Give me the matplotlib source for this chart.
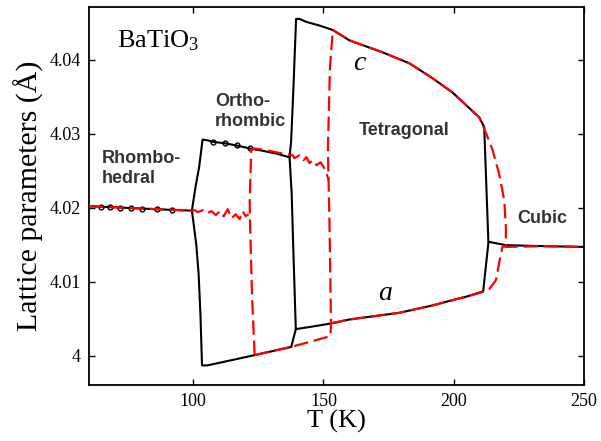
import matplotlib
matplotlib.use("Agg")
import matplotlib.pyplot as plt

plt.rcParams['font.family'] = ['Liberation Serif', 'DejaVu Serif']
plt.rcParams['mathtext.fontset'] = 'custom'
plt.rcParams['mathtext.rm'] = 'Liberation Serif'
plt.rcParams['mathtext.it'] = 'Liberation Serif:italic'

# ---------------- data (T in K, lattice parameter in Angstrom) -------------
# Black solid (cooling) curves
blk_main_T = [60, 64.5, 68, 72, 76, 80.5, 86, 92, 99.5, 100.9, 102.3, 103.6, 105.5,
              107.5, 112.1, 116.7, 121.7, 126.5, 132, 137.0, 137.6, 138.45, 139.5,
              140.8, 143.4, 148.5, 153.6, 160.0, 172.6, 183.0, 191.8, 199.4, 209.8,
              211.7, 213.3, 220.0, 235, 250]
blk_main_y = [4.0202, 4.02013, 4.02008, 4.02002, 4.01995, 4.01988, 4.01979, 4.0197,
              4.0196, 4.0228, 4.0255, 4.0292, 4.0291, 4.0289, 4.0287, 4.0284, 4.0280,
              4.0277, 4.0273, 4.0268, 4.0290, 4.0359, 4.0455, 4.0455, 4.0451, 4.0446,
              4.0440, 4.0426, 4.0410, 4.0395, 4.0375, 4.0356, 4.0322, 4.0309, 4.0154,
              4.01494, 4.0148, 4.0147]
blk_marker_idx = [1, 2, 3, 4, 5, 6, 7, 13, 14, 15, 16]

blk_low_T = [99.5, 100.0, 101.2, 102.1, 102.8, 103.4, 105.5, 122.5, 137.65, 139.4, 145,
             153.6, 160, 172.7, 179.1, 191.9, 198.3, 205, 211.3, 213.3]
blk_low_y = [4.0196, 4.0183, 4.0150, 4.0110, 4.0055, 3.9987, 3.9987, 4.0000, 4.0012,
             4.0036, 4.0039, 4.0044, 4.0049, 4.0055, 4.0058, 4.0068, 4.0074, 4.0080,
             4.0087, 4.0152]

blk_split_T = [137.0, 137.8, 138.3, 139.0, 139.4]
blk_split_y = [4.0268, 4.0220, 4.0160, 4.0080, 4.0036]

# Red dashed (heating) curves
red_rh_T = [60, 70, 80, 90, 99.5, 100.6, 101.75, 103.67, 105.2, 107.1, 108.65, 110.2,
            111.7, 113.25, 114.8, 116.3, 117.85, 119.0, 120.1, 121.3]
red_rh_y = [4.0202, 4.02005, 4.0199, 4.01975, 4.0196, 4.01966, 4.01939, 4.01966,
            4.01926, 4.01953, 4.01899, 4.01953, 4.01885, 4.01980, 4.01858, 4.01912,
            4.01845, 4.01953, 4.01885, 4.01912]

red_up_T = [123.6, 122.6, 121.8, 121.7, 122.3, 123.6, 129, 134.4, 138.1, 138.9, 140.8,
            142.35, 143.5, 144.65, 145.8, 147.35, 148.9, 150.8, 152.0]
red_up_y = [4.0001, 4.0080, 4.0183, 4.0210, 4.0278, 4.0280, 4.0277, 4.0273, 4.0271,
            4.02668, 4.02709, 4.02641, 4.02682, 4.02601, 4.02641, 4.02574, 4.02614,
            4.02506, 4.02371]

red_c_T = [123.6, 130, 137.65, 145, 151.7, 152.7, 152.9, 152.3, 151.7, 152.5, 153.6,
           160.0, 172.6, 183.0, 191.8, 199.4, 209.8, 211.7, 214.9, 217.4, 219.4,
           220.0, 220.0, 235, 250]
red_c_y = [4.0001, 4.0006, 4.0012, 4.0019, 4.00256, 4.0027, 4.0044, 4.0183, 4.0278,
           4.0390, 4.0440, 4.0426, 4.0410, 4.0395, 4.0375, 4.0356, 4.0322, 4.0307,
           4.0278, 4.0246, 4.0210, 4.0174, 4.0147, 4.0148, 4.0147]

red_a_T = [152.9, 160, 172.7, 179.1, 191.9, 198.3, 205, 211.05, 213.6, 216.2, 217.4,
           218.7, 220.0]
red_a_y = [4.0044, 4.0049, 4.0055, 4.0058, 4.0068, 4.0074, 4.0080, 4.0086, 4.0090,
           4.0102, 4.0125, 4.0147, 4.0148]

xticks = [100, 150, 200, 250]
xtick_labels = ['100', '150', '200', '250']
yticks = [4.00, 4.01, 4.02, 4.03, 4.04]
ytick_labels = ['4', '4.01', '4.02', '4.03', '4.04']

phase_labels = ['Rhombo-\nhedral', 'Ortho-\nrhombic', 'Tetragonal', 'Cubic']
phase_pos = [(64.9, 4.02526), (108.3, 4.0330), (181.05, 4.03046), (234.0, 4.01854)]
phase_ha = ['left', 'left', 'center', 'center']

# ---------------- figure -------------------------------------------------------
fig = plt.figure(figsize=(6.01, 4.41), dpi=100)
ax = fig.add_axes([0.148, 0.127, 0.8237, 0.857])

lw = 1.5
ax.plot(blk_main_T, blk_main_y, color='black', lw=lw, marker='o', ms=3.5,
        mfc='none', mec='black', mew=1.0, markevery=blk_marker_idx, zorder=2)
ax.plot(blk_low_T, blk_low_y, color='black', lw=lw, zorder=2)
ax.plot(blk_split_T, blk_split_y, color='black', lw=lw, zorder=2)

dash = (0, (6.5, 2.6))
for T, y in [(red_rh_T, red_rh_y), (red_up_T, red_up_y), (red_c_T, red_c_y),
             (red_a_T, red_a_y)]:
    ax.plot(T, y, color='#ff0000', lw=1.6, linestyle=dash, zorder=3)

ax.set_xlim(60, 250)
ax.set_ylim(3.99605, 4.0471)
ax.set_xticks(xticks)
ax.set_xticklabels(xtick_labels)
ax.set_yticks(yticks)
ax.set_yticklabels(ytick_labels)
ax.tick_params(direction='in', length=4.5, width=1.0, top=True, right=True,
               labelsize=13, pad=6)
for s in ax.spines.values():
    s.set_linewidth(1.3)

ax.set_xlabel('T (K)', fontsize=19, labelpad=0)
ax.set_ylabel('Lattice parameters (Å)', fontsize=21.5, labelpad=4)

ax.text(70.6, 4.04166, 'BaTiO$_\\mathrm{3}$', fontsize=19, ha='left', va='baseline')

for lab, (px, py), ha in zip(phase_labels, phase_pos, phase_ha):
    ax.text(px, py, lab, fontsize=13, fontweight='bold', color='#333333',
            family=['Liberation Sans', 'DejaVu Sans'], ha=ha, va='center',
            linespacing=1.2)

ax.text(163.8, 4.0395, 'c', fontsize=20, style='italic', ha='center', va='center')
ax.text(173.8, 4.0084, 'a', fontsize=20, style='italic', ha='center', va='center')

fig.savefig('out.png', dpi=100)
